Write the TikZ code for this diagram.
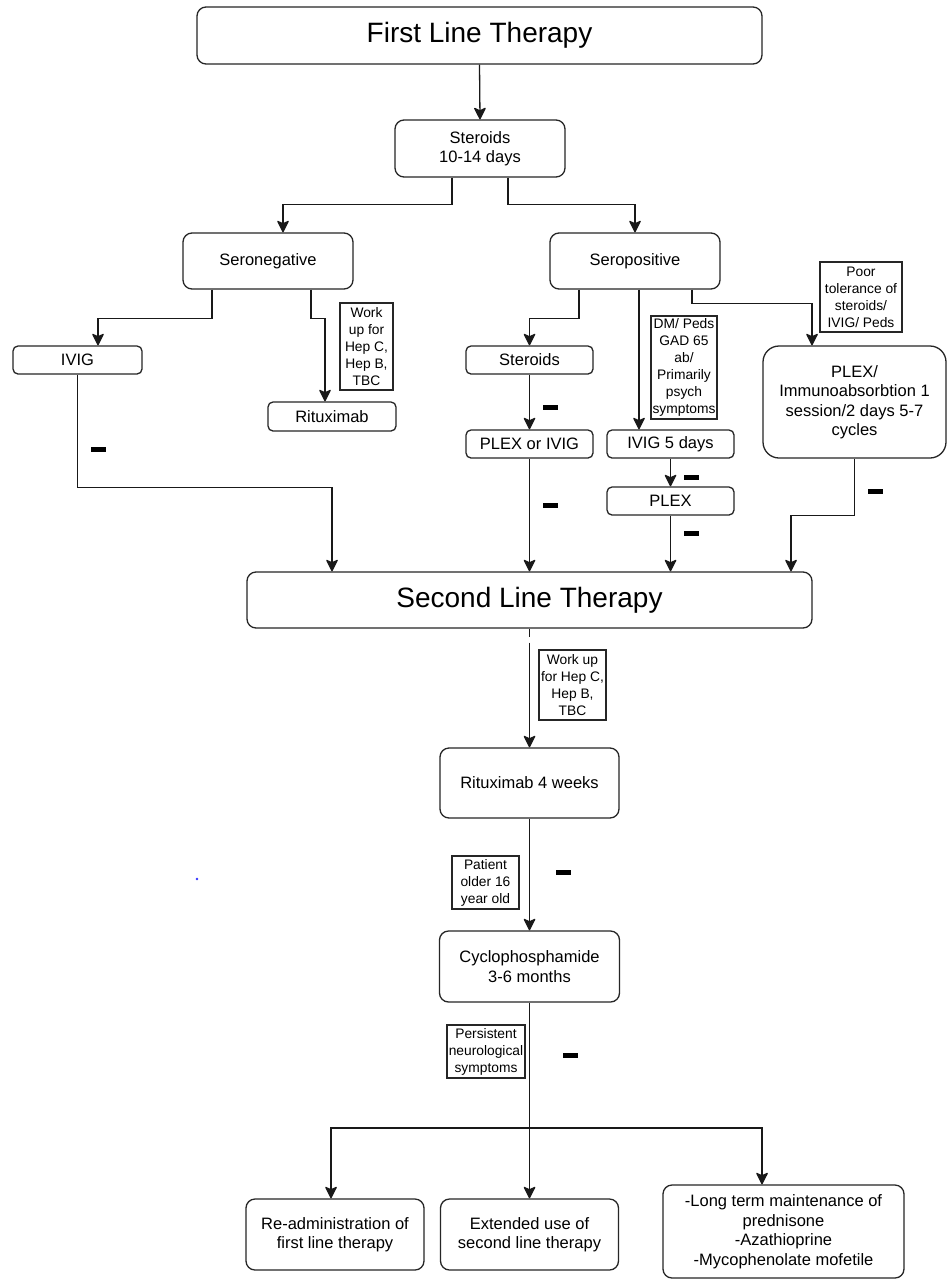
\documentclass[tikz,border=0pt]{standalone}
\usepackage{fontspec}
\setmainfont{Liberation Sans}
\usetikzlibrary{arrows.meta,calc}
\newcommand{\fnBig}{\fontsize{28}{32}\selectfont}
\newcommand{\fnNorm}{\fontsize{16.5}{19.5}\selectfont}
\newcommand{\fnSmall}{\fontsize{13.8}{17}\selectfont}
\begin{document}
\begin{tikzpicture}[x=1pt,y=-1pt,
  box/.style={draw=black!85, line width=1.3pt, rounded corners=9pt, inner sep=0pt, align=center, font=\fnNorm},
  sbox/.style={box, rounded corners=5pt},
  note/.style={draw=black!85, line width=1.3pt, inner sep=0pt, align=center, font=\fnSmall},
  arr/.style={line width=1.3pt, draw=black!90, -{Stealth[length=13pt,width=13pt,inset=3pt,round]}},
  minus/.style={fill=black, minimum width=15pt, minimum height=5pt, inner sep=0pt}]
\fill[white] (0,0) rectangle (949,1280);
\useasboundingbox (0,0) rectangle (949,1280);

% nodes
\node[box, font=\fnBig, minimum width=565pt, minimum height=57pt] (first) at (479.5,35.5) {First Line Therapy};
\node[box, minimum width=170pt, minimum height=57pt] (ster1) at (480,148.5) {Steroids\\10-14 days};
\node[box, minimum width=170pt, minimum height=56pt] (seroneg) at (268,261) {Seronegative};
\node[box, minimum width=170pt, minimum height=56pt] (seropos) at (635,261) {Seropositive};
\node[sbox, minimum width=129pt, minimum height=28pt] (ivig1) at (77.5,360) {IVIG};
\node[sbox, minimum width=128pt, minimum height=29pt] (ritux1) at (332,416.5) {Rituximab};
\node[note, minimum width=53pt, minimum height=87pt] (work1) at (366.5,346.5) {Work\\up for\\Hep C,\\Hep B,\\TBC};
\node[sbox, minimum width=127pt, minimum height=28pt] (ster2) at (529.5,360) {Steroids};
\node[sbox, minimum width=127pt, minimum height=28pt] (plexivig) at (529.5,444) {PLEX or IVIG};
\node[note, minimum width=66pt, minimum height=103pt] (dm) at (684,367.5) {DM/ Peds\\GAD 65\\ab/\\Primarily\\psych\\symptoms};
\node[sbox, minimum width=127pt, minimum height=28pt] (ivig5) at (670.5,444) {IVIG 5 days};
\node[sbox, minimum width=127pt, minimum height=28pt] (plex) at (670.5,501) {PLEX};
\node[note, minimum width=82pt, minimum height=70pt] (poor) at (861,297) {Poor\\tolerance of\\steroids/\\IVIG/ Peds};
\node[box, rounded corners=16pt, minimum width=183pt, minimum height=112pt] (immuno) at (854.5,402) {PLEX/\\Immunoabsorbtion 1\\session/2 days 5-7\\cycles};
\node[box, font=\fnBig, minimum width=565pt, minimum height=56pt] (second) at (529.5,600) {Second Line Therapy};
\node[note, minimum width=67pt, minimum height=70pt] (work2) at (572.5,685) {Work up\\for Hep C,\\Hep B,\\TBC};
\node[box, minimum width=179pt, minimum height=70pt] (ritux4) at (529.5,783) {Rituximab 4 weeks};
\node[note, minimum width=67pt, minimum height=53pt] (patient) at (485.5,882.5) {Patient\\older 16\\year old};
\node[box, minimum width=180pt, minimum height=71pt] (cyclo) at (529.5,966.5) {Cyclophosphamide\\3-6 months};
\node[note, minimum width=78pt, minimum height=53pt] (persist) at (486,1051.5) {Persistent\\neurological\\symptoms};
\node[box, minimum width=178pt, minimum height=71pt] (readmin) at (335,1234.5) {Re-administration of\\first line therapy};
\node[box, minimum width=178pt, minimum height=71pt] (extended) at (529.5,1234.5) {Extended use of\\second line therapy};
\node[box, minimum width=241pt, minimum height=93pt] (longterm) at (783.5,1231.5) {-Long term maintenance of\\prednisone\\-Azathioprine\\-Mycophenolate mofetile};

% minus marks
\node[minus] (m1) at (98.5,449.5) {};
\node[minus] (m2) at (550,407) {};
\node[minus] (m3) at (550,505.5) {};
\node[minus] (m4) at (691,477.5) {};
\node[minus] (m5) at (691,533.5) {};
\node[minus] (m6) at (875,491) {};
\node[minus] (m7) at (563.5,872) {};
\node[minus] (m8) at (570.5,1055.5) {};

% connectors
\draw[arr] (first.south) -- (ster1.north);
\draw[arr] ([xshift=-28pt]ster1.south) -- ++(0,27) -| ([xshift=15pt]seroneg.north);
\draw[arr] ([xshift=28pt]ster1.south) -- ++(0,27) -| (seropos.north);
\draw[arr] ([xshift=-56pt]seroneg.south) -- ++(0,29) -| ([xshift=20.5pt]ivig1.north);
\draw[arr] ([xshift=43pt]seroneg.south) -- ++(0,29) -| ([xshift=-7pt]ritux1.north);
\draw[arr] (ivig1.south) -- ++(0,113) -| ([xshift=-197.5pt]second.north);
\draw[arr] ([xshift=-56pt]seropos.south) -- ++(0,29) -| (ster2.north);
\draw[arr] (ster2.south) -- (plexivig.north);
\draw[arr] (plexivig.south) -- (plexivig.south |- second.north);
\coordinate (dmtop) at ([xshift=4pt]seropos.south);
\draw[arr] (dmtop) -- (dmtop |- ivig5.north);
\draw[arr] ([xshift=57pt]seropos.south) -- ++(0,14) -| ([xshift=-42.5pt]immuno.north);
\draw[arr] (ivig5.south) -- (plex.north);
\draw[arr] (plex.south) -- (plex.south |- second.north);
\draw[arr] (immuno.south) -- ++(0,57) -| ([xshift=261.5pt]second.north);
\draw[arr, dash pattern=on 8pt off 6pt on 300pt off 0pt] (second.south) -- (ritux4.north);
\draw[arr] (ritux4.south) -- (cyclo.north);
\draw[arr] (cyclo.south) -- (extended.north);
\coordinate (br) at (cyclo.south |- 0,1128);
\draw[arr] (br) -| ([xshift=-4pt]readmin.north);
\draw[arr] (br) -| ([xshift=-21.5pt]longterm.north);

\fill[blue!80] (197,879) circle (1.3pt);
\end{tikzpicture}
\end{document}
